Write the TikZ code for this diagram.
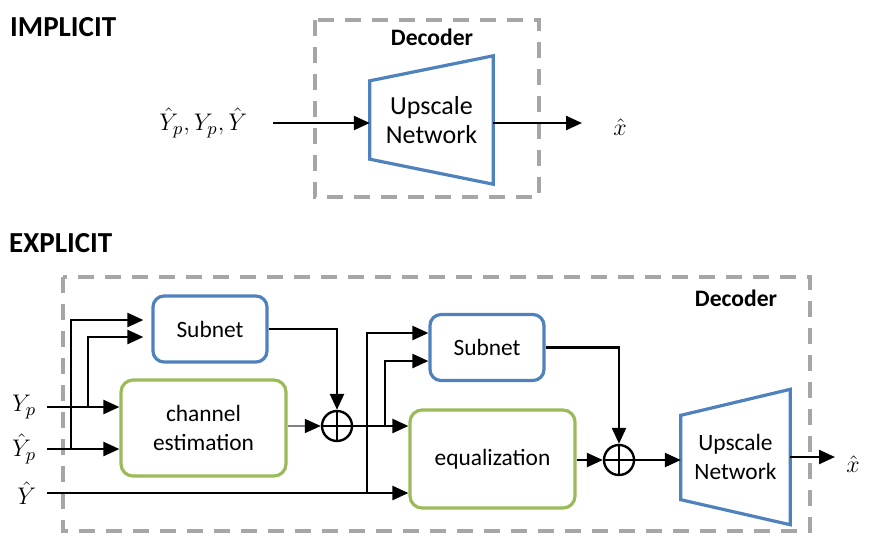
\documentclass[tikz,border=0pt]{standalone}
\usepackage{fontspec}
\setmainfont{Carlito}
\usetikzlibrary{arrows.meta, positioning}
\definecolor{netblue}{RGB}{79,129,189}
\definecolor{estgreen}{RGB}{155,187,89}
\definecolor{boxgray}{RGB}{166,166,166}
\tikzstyle{every node}=[font=\fontsize{11.7}{14.5}\selectfont]
\tikzstyle{subnet}=[draw=netblue,line width=1.6pt,rectangle,rounded corners=5.5pt,minimum width=57pt,minimum height=33pt,inner sep=0pt]
\tikzstyle{block}=[draw=estgreen,line width=1.6pt,rectangle,rounded corners=6pt,minimum width=82.5pt,minimum height=48pt,align=center,inner sep=0pt]
\tikzstyle{adder}=[draw,circle,line width=1.2pt,minimum size=15pt,inner sep=0pt]
\tikzstyle{upscale}=[rectangle,align=center,inner sep=0pt]
\tikzstyle{trap}=[draw=netblue,line width=1.6pt]
\tikzstyle{decoder}=[draw=boxgray,line width=1.7pt,dash pattern=on 8pt off 5.5pt]
\tikzstyle{title}=[anchor=west,inner sep=0pt,font=\bfseries\fontsize{14.5}{17}\selectfont]
\tikzstyle{declabel}=[font=\bfseries\fontsize{11.8}{14}\selectfont]
\tikzstyle{sig}=[font=\fontsize{12.5}{14}\selectfont]

\begin{document}
\begin{tikzpicture}[x=0.5pt,y=-0.5pt,>={Triangle[length=8pt,width=7pt]},line width=1.2pt]
    \useasboundingbox (0,0) rectangle (872,548);

    \node[title] (implicit) at (9,27) {IMPLICIT};
    \draw[decoder] (315,20) rectangle (539,197);
    \node[declabel] (dec1) at (432,37) {Decoder};
    \node[upscale,minimum width=60.5pt,minimum height=63pt,font=\fontsize{13}{14.5}\selectfont] (upA) at (431.5,120) {Upscale\\Network};
    \draw[trap] ([yshift=-12.5pt]upA.north west) -- (upA.north east) -- (upA.south east) -- ([yshift=12.5pt]upA.south west) -- cycle;
    \coordinate (inA) at (273,123);
    \node[sig,left=9pt of inA] (sigA) {$\hat{Y}_p, Y_p, \hat{Y}$};
    \draw[->] (inA) -- (inA -| upA.west);
    \coordinate (outA) at (582,123);
    \draw[->] (upA.east |- outA) -- (outA);
    \node[sig] (xA) at (620,127) {$\hat{x}$};

    \node[title] (explicit) at (8,243) {EXPLICIT};
    \draw[decoder] (63,277) rectangle (810,531);
    \node[declabel] (dec2) at (736,298) {Decoder};
    \node[subnet] (sub1) at (210,329) {Subnet};
    \node[block] (chest) at (203.5,428) {channel\\estimation};
    \node[adder] (add1) at (337,426) {};
    \node[subnet] (sub2) at (487,347.5) {Subnet};
    \node[block,minimum height=49pt] (equal) at (492.5,459) {equalization};
    \node[adder] (add2) at (619,460) {};
    \node[upscale,minimum width=53.5pt,minimum height=66.5pt] (upB) at (735.5,457) {Upscale\\Network};
    \draw[trap] ([yshift=-13pt]upB.north west) -- (upB.north east) -- (upB.south east) -- ([yshift=12.5pt]upB.south west) -- cycle;
    \foreach \a in {add1,add2}
        \draw (\a.north) -- (\a.south) (\a.west) -- (\a.east);

    \coordinate (inYp) at (47,407);
    \coordinate (inYh) at (47,449);
    \coordinate (inY) at (47,493);
    \node[sig,left=1.5pt of inYp] (lYp) {$Y_p$};
    \node[sig,left=1.5pt of inYh] (lYh) {$\hat{Y}_p$};
    \node[sig,left=1.5pt of inY] (lY) {$\hat{Y}$};
    \draw[->] (inYp) -- (inYp -| chest.west);
    \draw[->] (inYh) -- (inYh -| chest.west);
    \draw[->] (inY) -- (inY -| equal.west);

    \coordinate (brYh) at (71,449);
    \coordinate (brYp) at (88,407);
    \draw[->,shorten >=4pt] (brYh) |- ([yshift=4.5pt]sub1.west);
    \draw[->,shorten >=4pt] (brYp) |- ([yshift=-4pt]sub1.west);
    \draw[->] (sub1.east) -| (add1.north);
    \draw[-{Triangle[length=8pt,width=7pt,black]},gray,line width=0.8pt] (chest.east |- add1) -- (add1.west);

    \coordinate (brS) at (385,426);
    \coordinate (brY) at (367,493);
    \draw[->] (add1.east) -- (add1 -| equal.west);
    \draw[->] (brY) |- ([yshift=7.25pt]sub2.west);
    \draw[->] (brS) |- ([yshift=-6.75pt]sub2.west);
    \draw[->] (sub2.east) -| (add2.north);
    \draw[->] (equal.east |- add2) -- (add2.west);
    \draw[->] (add2.east) -- (add2 -| upB.west);

    \coordinate (outB) at (835,457);
    \draw[->] (upB.east) -- (outB);
    \node[sig] (xB) at (853,464) {$\hat{x}$};
\end{tikzpicture}
\end{document}
